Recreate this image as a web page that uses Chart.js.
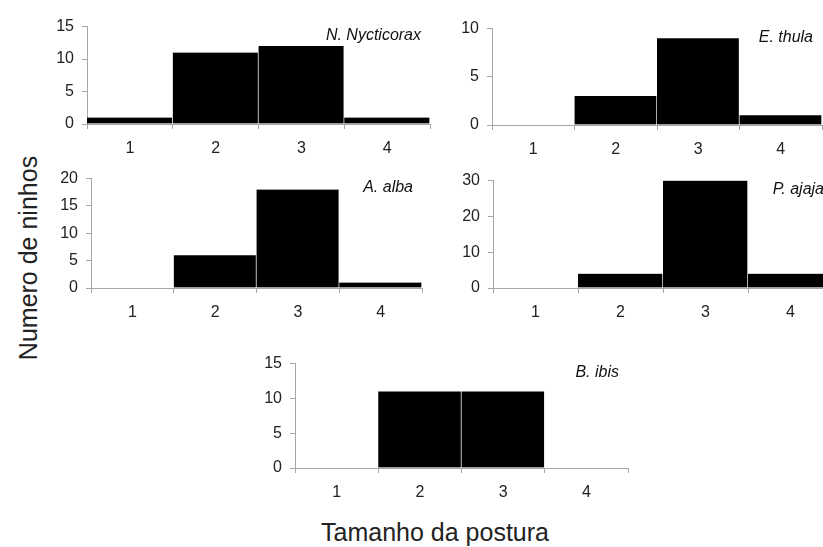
<!DOCTYPE html>
<html>
<head>
<meta charset="utf-8">
<script src="https://cdn.jsdelivr.net/npm/chart.js@4.4.0/dist/chart.umd.min.js"></script>
<style>
  html, body { margin: 0; padding: 0; background: #fff; overflow: hidden; width: 823px; height: 547px; }
  body { position: relative; font-family: "Liberation Sans", Arial, sans-serif; }
  canvas { position: absolute; }
  .ytitle { position: absolute; left: 28px; top: 258px; transform: translate(-50%, -50%) rotate(-90deg); font-size: 25px; color: #222; white-space: nowrap; }
  .xtitle { position: absolute; left: 435px; top: 532px; transform: translate(-50%, -50%); font-size: 25px; color: #222; white-space: nowrap; }
</style>
</head>
<body>
<canvas id="c1"></canvas>
<canvas id="c2"></canvas>
<canvas id="c3"></canvas>
<canvas id="c4"></canvas>
<canvas id="c5"></canvas>
<div class="ytitle">Numero de ninhos</div>
<div class="xtitle">Tamanho da postura</div>
<script>
// tamanho da postura (categorias)
const categories = ["1", "2", "3", "4"];

// numero de ninhos por especie
const nycticorax = [1, 11, 12, 1];
const thula = [0, 3, 9, 1];
const alba = [0, 6, 18, 1];
const ajaja = [0, 4, 30, 4];
const ibis = [0, 11, 11, 0];

// ticks do eixo y
const nycticoraxTicks = [0, 5, 10, 15];
const thulaTicks = [0, 5, 10];
const albaTicks = [0, 5, 10, 15, 20];
const ajajaTicks = [0, 10, 20, 30];
const ibisTicks = [0, 5, 10, 15];

const Y_W = 40, X_H = 34, PAD_T = 8, PAD_R = 5;
const AXIS = "#a6a6a6";

const panelTitle = {
  id: "panelTitle",
  afterDraw(chart, args, opts) {
    const ctx = chart.ctx, a = chart.chartArea;
    ctx.save();
    ctx.font = 'italic 16px "Liberation Sans", Arial, sans-serif';
    ctx.fillStyle = "#111";
    ctx.textAlign = "right";
    ctx.textBaseline = "middle";
    ctx.fillText(opts.text, a.right - 9, a.top + 9);
    ctx.restore();
  }
};

function makePanel(id, title, values, ticks, L, T, R, B) {
  const cv = document.getElementById(id);
  cv.width = R - L + Y_W + PAD_R;
  cv.height = B - T + PAD_T + X_H;
  cv.style.left = (L - Y_W) + "px";
  cv.style.top = (T - PAD_T) + "px";
  return new Chart(cv, {
    type: "bar",
    data: {
      labels: categories,
      datasets: [{
        data: values,
        backgroundColor: "#000",
        borderColor: "#fff",
        borderWidth: { left: 0, right: 1, top: 0, bottom: 0 },
        barPercentage: 1,
        categoryPercentage: 1
      }]
    },
    options: {
      responsive: false,
      animation: false,
      layout: { padding: { top: PAD_T, right: PAD_R, left: 0, bottom: 0 } },
      plugins: {
        legend: { display: false },
        tooltip: { enabled: false },
        panelTitle: { text: title }
      },
      scales: {
        x: {
          afterFit(s) { s.height = X_H; },
          border: { display: true, color: AXIS, width: 1 },
          grid: { display: true, drawOnChartArea: false, drawTicks: true, tickLength: 5, color: AXIS, offset: true },
          ticks: { color: "#222", font: { size: 16, family: '"Liberation Sans", Arial, sans-serif' }, padding: 10, maxRotation: 0 }
        },
        y: {
          min: ticks[0],
          max: ticks[ticks.length - 1],
          afterFit(s) { s.width = Y_W; },
          afterBuildTicks(s) { s.ticks = ticks.map(v => ({ value: v })); },
          border: { display: true, color: AXIS, width: 1 },
          grid: { display: true, drawOnChartArea: false, drawTicks: true, tickLength: 5, color: AXIS },
          ticks: { color: "#222", font: { size: 16, family: '"Liberation Sans", Arial, sans-serif' }, padding: 8 }
        }
      }
    },
    plugins: [panelTitle]
  });
}

makePanel("c1", "N. Nycticorax", nycticorax, nycticoraxTicks, 87, 17, 430, 124);
makePanel("c2", "E. thula", thula, thulaTicks, 492, 19, 822, 125);
makePanel("c3", "A. alba", alba, albaTicks, 91, 169, 422, 288);
makePanel("c4", "P. ajaja", ajaja, ajajaTicks, 493, 171, 833, 288);
makePanel("c5", "B. ibis", ibis, ibisTicks, 295, 354, 628, 468);
</script>
</body>
</html>
